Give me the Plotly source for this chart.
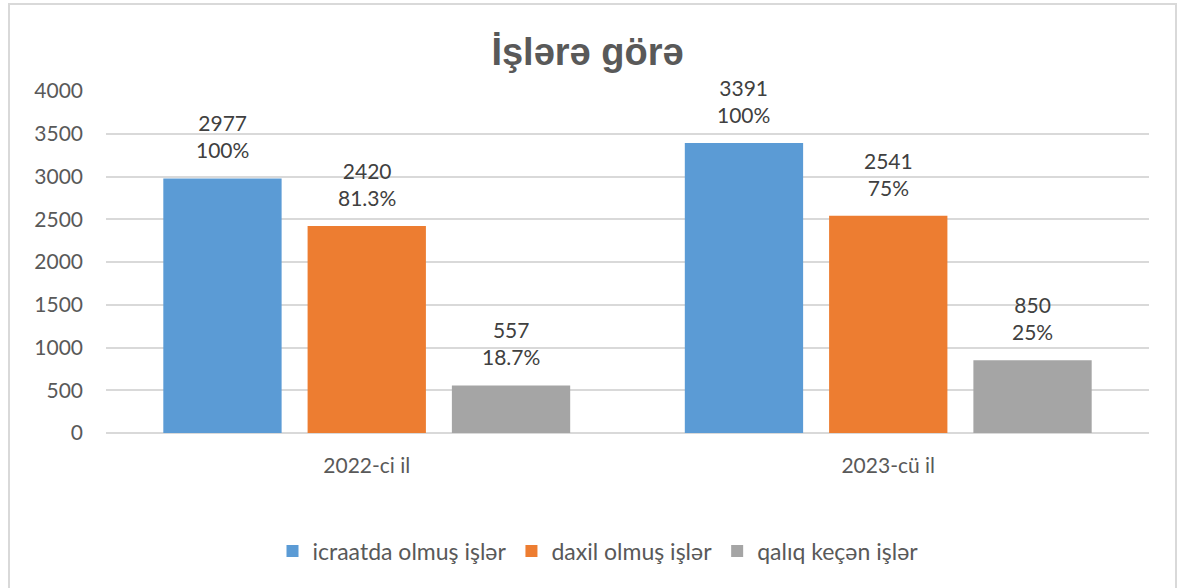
import plotly.graph_objects as go

categories = ["2022-ci il", "2023-cü il"]
series_names = ["icraatda olmuş işlər", "daxil olmuş işlər", "qalıq keçən işlər"]
icraatda = [2977, 3391]
daxil = [2420, 2541]
qaliq = [557, 850]
icraatda_pct = ["100%", "100%"]
daxil_pct = ["81.3%", "75%"]
qaliq_pct = ["18.7%", "25%"]
y_ticks = [0, 500, 1000, 1500, 2000, 2500, 3000, 3500, 4000]

colors = ["#5b9bd5", "#ed7d31", "#a5a5a5"]
FONT = "Lato, 'Noto Sans', sans-serif"
TXT = "#404040"
TICK = "#595959"

W, H = 1189, 588
L, R, T, B = 106, 40, 91, 155
pw, ph = W - L - R, H - T - B
BARGAP, GROUPGAP = 0.17, 0.18

fig = go.Figure()
all_vals = [icraatda, daxil, qaliq]
all_pcts = [icraatda_pct, daxil_pct, qaliq_pct]
for name, vals, col in zip(series_names, all_vals, colors):
    fig.add_trace(go.Bar(
        x=categories, y=vals, name=name,
        marker=dict(color=col, line=dict(width=0)),
        hoverinfo="x+y+name",
    ))

# data labels above each bar (value + share)
cat_px = pw / len(categories)
slot_px = cat_px * (1 - BARGAP) / len(series_names)
for i, (vals, pcts) in enumerate(zip(all_vals, all_pcts)):
    shift = (i - (len(series_names) - 1) / 2) * slot_px
    for cat, v, p in zip(categories, vals, pcts):
        fig.add_annotation(
            x=cat, y=v, xref="x", yref="y", text=f"{v}<br>{p}",
            showarrow=False, xshift=shift, yshift=14, yanchor="bottom",
            font=dict(size=21, color=TXT, family=FONT),
        )

def px_x(x):
    return (x - L) / pw

def px_y(y):
    return (H - B - y) / ph

fig.add_shape(type="rect", xref="paper", yref="paper",
              x0=px_x(9), x1=px_x(1176), y0=px_y(600), y1=px_y(4),
              line=dict(color="#d9d9d9", width=2), fillcolor="rgba(0,0,0,0)",
              layer="below")

fig.update_layout(
    width=W, height=H,
    margin=dict(l=L, r=R, t=T, b=B, autoexpand=False),
    paper_bgcolor="white", plot_bgcolor="white",
    barmode="group", bargap=BARGAP, bargroupgap=GROUPGAP,
    font=dict(family=FONT, color=TICK, size=18),
    title=dict(text="<b>İşlərə görə</b>", x=587.5 / W, xanchor="center",
               y=1 - 52 / H, yanchor="middle",
               font=dict(size=38, color="#595959",
                         family="'Liberation Sans', Arial, sans-serif")),
    xaxis=dict(showgrid=False, showline=False, ticks="",
               tickfont=dict(size=21, color=TICK), ticklabelstandoff=18),
    yaxis=dict(range=[0, 4000], tickvals=y_ticks, showgrid=True,
               gridcolor="#d9d9d9", gridwidth=2, zeroline=True,
               zerolinecolor="#d9d9d9", zerolinewidth=2,
               tickfont=dict(size=21, color=TICK), ticklabelstandoff=22),
    legend=dict(orientation="h", x=px_x(598), xanchor="center",
                y=px_y(551), yanchor="middle",
                font=dict(size=23, color=TICK), itemwidth=30,
                traceorder="normal"),
    showlegend=True,
)

fig.write_html("out.html", config={"displayModeBar": False},
               post_script="document.body.style.margin='0';")
